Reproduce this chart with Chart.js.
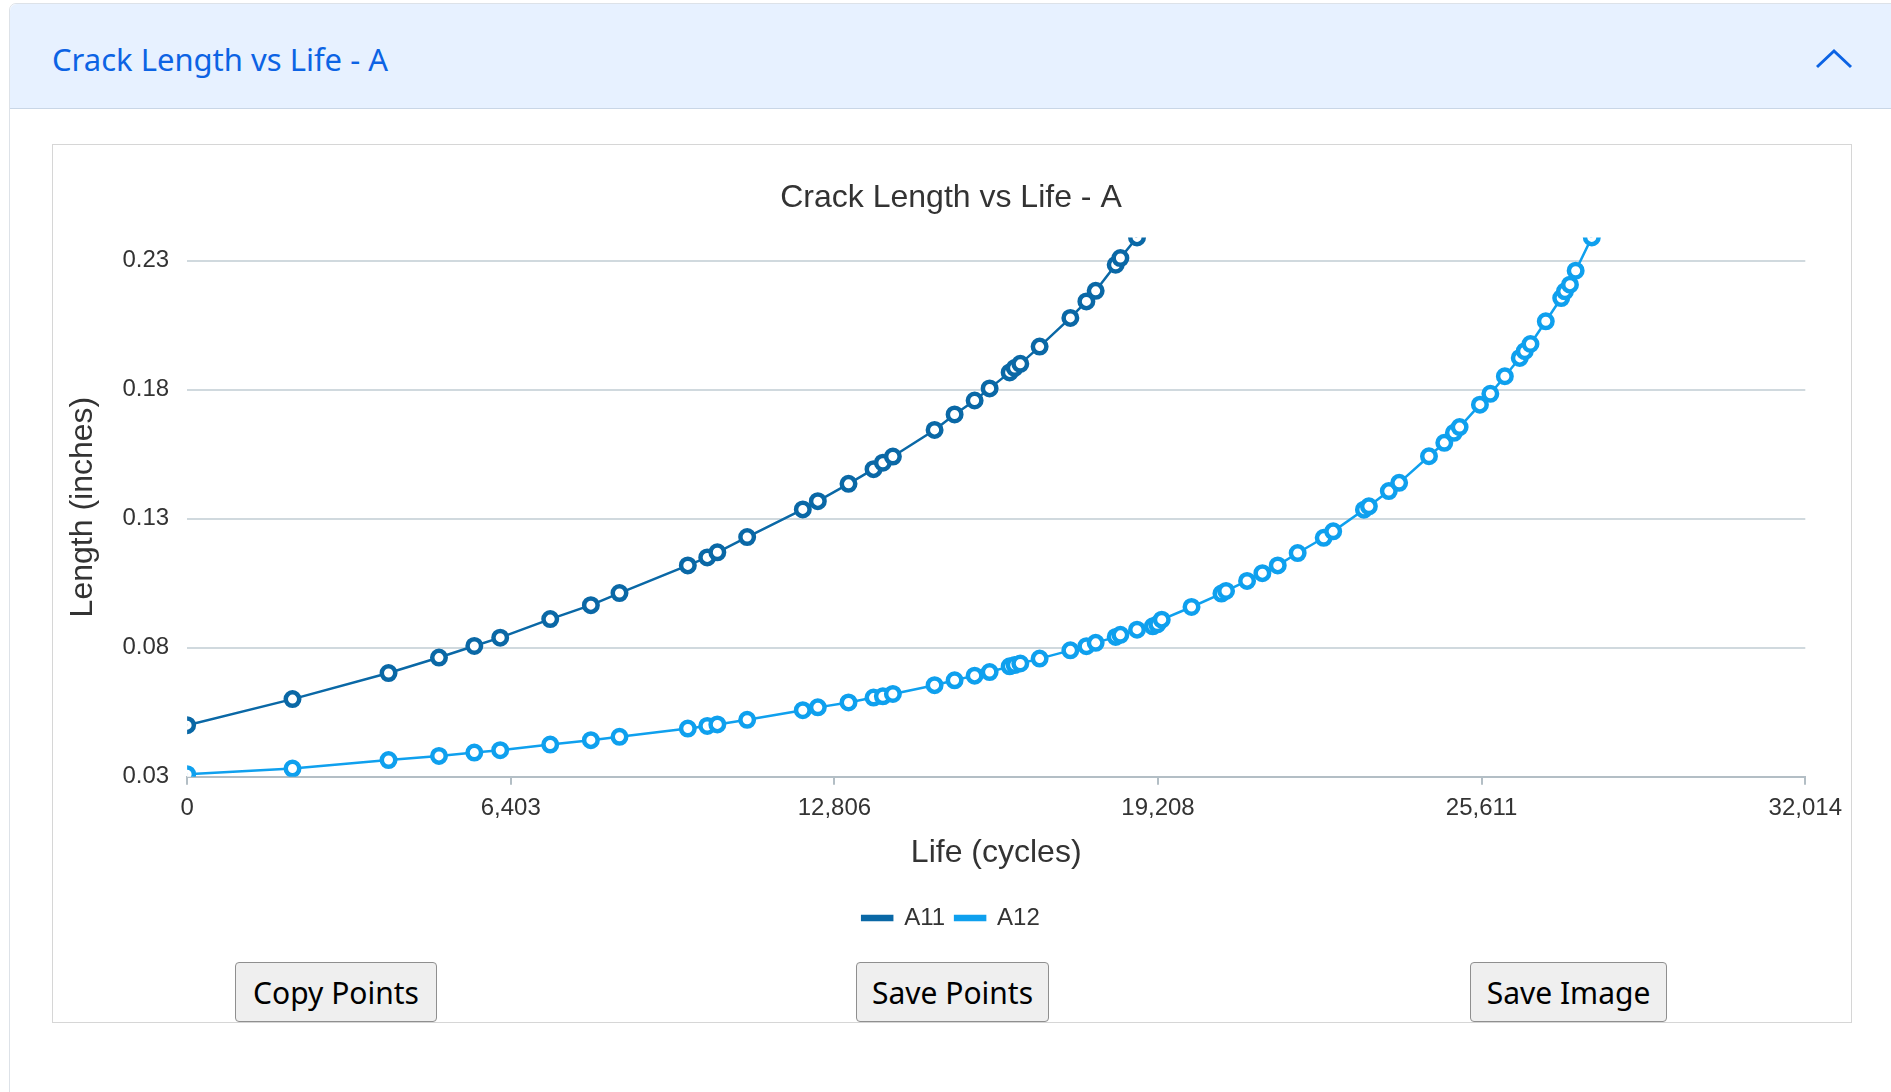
<!DOCTYPE html>
<html>
<head>
<meta charset="utf-8">
<title>Crack Length vs Life - A</title>
<script src="https://cdn.jsdelivr.net/npm/chart.js@4.4.1/dist/chart.umd.min.js"></script>
<style>
  html, body { margin: 0; padding: 0; background: #fff; width: 1891px; height: 1092px; overflow: hidden; }
  .card { position: absolute; left: 9px; top: 3px; width: 1920px; height: 1200px; border: 1px solid #dde2e8; border-radius: 7px; }
  .card-header { position: absolute; left: 0; top: 0; right: 0; height: 104px; background: #e7f1ff; border-bottom: 1px solid #c9d6e6; border-radius: 7px 0 0 0; }
  .card-header h2 { position: absolute; left: 42px; top: 36px; margin: 0; font: 400 31px "Noto Sans", "Open Sans", sans-serif; color: #0c63e4; line-height: 38px; }
  .card-header svg { position: absolute; left: 1806px; top: 41px; }
  .chart-box { position: absolute; left: 52px; top: 144px; width: 1798px; height: 877px; border: 1px solid #d6d6d6; }
  .chart-wrap { position: absolute; left: 0; top: 0; width: 1798px; height: 800px; }
  button { position: absolute; top: 962px; height: 60px; background: #efefef; border: 1px solid #8f8f8f; border-radius: 4px;
           font: 400 30px "Noto Sans", "Open Sans", sans-serif; color: #000; padding: 0; }
</style>
</head>
<body>
<div class="card">
  <div class="card-header">
    <h2>Crack Length vs Life - A</h2>
    <svg width="40" height="30" viewBox="0 0 40 30"><path d="M1,22 L18,6 L35,22" fill="none" stroke="#0c63e4" stroke-width="3"/></svg>
  </div>
</div>
<div class="chart-box">
  <div class="chart-wrap"><canvas id="crackChart"></canvas></div>
</div>
<button style="left:235px; width:202px;">Copy Points</button>
<button style="left:856px; width:193px;">Save Points</button>
<button style="left:1470px; width:197px;">Save Image</button>

<script>
// Specimen A11: life (cycles) and crack length (inches)
const a11Life = [0, 2085, 3985, 4983, 5682, 6194, 7184, 7988, 8554, 9906, 10290, 10490, 11080,
  12181, 12478, 13085, 13580, 13765, 13963, 14788, 15184, 15580, 15877, 16273, 16372, 16484,
  16866, 17474, 17791, 17975, 18371, 18464, 18793];
const a11Length = [0.0500, 0.0601, 0.0702, 0.0762, 0.0807, 0.0839, 0.0911, 0.0965, 0.1012, 0.1119,
  0.1150, 0.1170, 0.1229, 0.1336, 0.1368, 0.1435, 0.1492, 0.1517, 0.1541, 0.1644, 0.1704, 0.1758,
  0.1805, 0.1867, 0.1884, 0.1900, 0.1967, 0.2078, 0.2142, 0.2183, 0.2284, 0.2310, 0.2390];

// Specimen A12
const a12Life = [0, 2085, 3985, 4983, 5682, 6194, 7184, 7988, 8554, 9906, 10290, 10490, 11080,
  12181, 12478, 13085, 13580, 13765, 13963, 14788, 15184, 15580, 15877, 16273, 16372, 16484,
  16866, 17474, 17791, 17975, 18371, 18464, 18793, 19105, 19194, 19282, 19871, 20463, 20554,
  20970, 21273, 21577, 21971, 22486, 22674, 23282, 23380, 23774, 23979, 24569, 24872, 25062,
  25175, 25577, 25783, 26070, 26365, 26464, 26577, 26880, 27185, 27259, 27358, 27471, 27790];
const a12Length = [0.0310, 0.0332, 0.0365, 0.0381, 0.0394, 0.0403, 0.0425, 0.0442, 0.0455, 0.0487,
  0.0497, 0.0503, 0.0521, 0.0558, 0.0569, 0.0588, 0.0607, 0.0612, 0.0621, 0.0655, 0.0674, 0.0692,
  0.0706, 0.0728, 0.0733, 0.0739, 0.0758, 0.0790, 0.0806, 0.0819, 0.0842, 0.0850, 0.0870, 0.0883,
  0.0891, 0.0909, 0.0958, 0.1010, 0.1020, 0.1059, 0.1089, 0.1119, 0.1167, 0.1226, 0.1251, 0.1335,
  0.1348, 0.1407, 0.1439, 0.1542, 0.1594, 0.1633, 0.1655, 0.1742, 0.1784, 0.1852, 0.1923, 0.1949,
  0.1977, 0.2065, 0.2155, 0.2181, 0.2207, 0.2261, 0.2390];

// axis ticks
const lifeTicks = [0, 6403, 12806, 19208, 25611, 32014];
const lengthTicks = [0.03, 0.08, 0.13, 0.18, 0.23];
const lifeMin = 0, lifeMax = 32014;
const lengthMin = 0.03, lengthMax = 0.239;

const a11Color = '#0a68a6';
const a12Color = '#0fa0ee';
const textColor = '#333';

Chart.defaults.font.family = '"Liberation Sans", Arial, sans-serif';
Chart.defaults.color = textColor;

function series(label, life, length, color) {
    return {
        label: label,
        data: life.map((x, i) => ({ x: x, y: length[i] })),
        borderColor: color,
        backgroundColor: color,
        borderWidth: 2.5,
        pointRadius: 6.75,
        pointBorderWidth: 4.5,
        pointBackgroundColor: '#fff',
        pointBorderColor: color,
        tension: 0
    };
}

const ctx = document.getElementById('crackChart').getContext('2d');
new Chart(ctx, {
    type: 'line',
    data: {
        datasets: [
            series('A11', a11Life, a11Length, a11Color),
            series('A12', a12Life, a12Length, a12Color)
        ]
    },
    options: {
        responsive: true,
        maintainAspectRatio: false,
        animation: false,
        layout: { padding: { top: 21, left: 7, right: 9, bottom: 5 } },
        plugins: {
            title: {
                display: true,
                text: 'Crack Length vs Life - A',
                color: textColor,
                font: { size: 32, weight: 'normal' },
                padding: { top: 13, bottom: 20 }
            },
            legend: {
                position: 'bottom',
                labels: { boxWidth: 30, boxHeight: 4, font: { size: 24 }, color: textColor, padding: 10 }
            },
            tooltip: { enabled: false }
        },
        scales: {
            x: {
                type: 'linear',
                min: lifeMin,
                max: lifeMax,
                afterBuildTicks: axis => { axis.ticks = lifeTicks.map(v => ({ value: v })); },
                ticks: {
                    autoSkip: false,
                    maxRotation: 0,
                    padding: 9,
                    font: { size: 24 },
                    color: textColor,
                    callback: v => Math.round(v).toLocaleString('en-US')
                },
                grid: { drawOnChartArea: false, drawTicks: true, tickLength: 8, color: '#b3bec5', lineWidth: 2 },
                border: { display: true, color: '#b3bec5', width: 2 },
                title: {
                    display: true,
                    text: 'Life (cycles)',
                    color: textColor,
                    font: { size: 32 },
                    padding: { top: 2, bottom: 24 }
                }
            },
            y: {
                type: 'linear',
                min: lengthMin,
                max: lengthMax,
                afterBuildTicks: axis => { axis.ticks = lengthTicks.map(v => ({ value: v })); },
                ticks: {
                    autoSkip: false,
                    padding: 18,
                    font: { size: 24 },
                    color: textColor,
                    callback: v => v.toFixed(2)
                },
                grid: { drawTicks: false, color: '#d0d9de', lineWidth: 2 },
                border: { display: false },
                title: {
                    display: true,
                    text: 'Length (inches)',
                    color: textColor,
                    font: { size: 32 },
                    padding: { top: 4, bottom: 2 }
                }
            }
        }
    }
});
</script>
</body>
</html>
